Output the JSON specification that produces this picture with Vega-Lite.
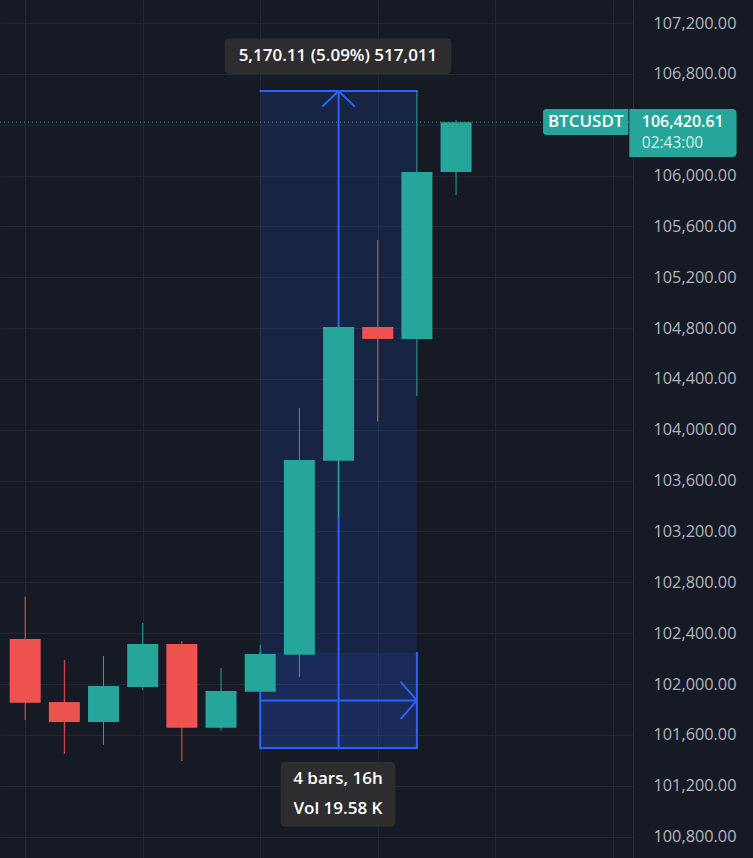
{
  "$schema": "https://vega.github.io/schema/vega-lite/v6.json",
  "width": 633,
  "height": 858,
  "autosize": {"type": "none"},
  "padding": {"left": 0, "right": 120, "top": 0, "bottom": 0},
  "background": "#161a25",
  "config": {"view": {"stroke": null}, "font": "Open Sans"},
  "datasets": {
    "candles": [
      {"i": 0, "o": 102354, "h": 102687, "l": 101717, "c": 101853},
      {"i": 1, "o": 101858, "h": 102189, "l": 101452, "c": 101701},
      {"i": 2, "o": 101701, "h": 102220, "l": 101522, "c": 101984},
      {"i": 3, "o": 101976, "h": 102480, "l": 101953, "c": 102315},
      {"i": 4, "o": 102315, "h": 102338, "l": 101394, "c": 101656},
      {"i": 5, "o": 101656, "h": 102126, "l": 101633, "c": 101945},
      {"i": 6, "o": 101939, "h": 102307, "l": 101935, "c": 102236},
      {"i": 7, "o": 102231, "h": 104172, "l": 102055, "c": 103762},
      {"i": 8, "o": 103757, "h": 104815, "l": 103316, "c": 104809},
      {"i": 9, "o": 104809, "h": 105493, "l": 104064, "c": 104715},
      {"i": 10, "o": 104715, "h": 106666.1, "l": 104266, "c": 106028},
      {"i": 11, "o": 106028, "h": 106437, "l": 105847, "c": 106420.61}
    ],
    "range": [{"x": 6, "x2": 10, "y": 101496, "y2": 106666.1}],
    "timebox": [{"x": 6, "x2": 10, "y": 101496, "y2": 102246}],
    "segments": [
      {"x": 6, "x2": 10, "y": 106666.1, "y2": 106666.1},
      {"x": 6, "x2": 10, "y": 101496, "y2": 101496},
      {"x": 6, "x2": 6, "y": 101496, "y2": 102246},
      {"x": 10, "x2": 10, "y": 101496, "y2": 102246},
      {"x": 8, "x2": 8, "y": 101496, "y2": 106666.1},
      {"x": 7.6, "x2": 8, "y": 106548, "y2": 106666.1},
      {"x": 8.4, "x2": 8, "y": 106548, "y2": 106666.1},
      {"x": 6, "x2": 10, "y": 101871, "y2": 101871},
      {"x": 9.6, "x2": 10, "y": 102013, "y2": 101871},
      {"x": 9.6, "x2": 10, "y": 101729, "y2": 101871}
    ],
    "last": [{"x": 0, "price": 106420.61}],
    "darkboxes": [
      {"x": 5.094, "x2": 10.874, "y": 106797, "y2": 107080},
      {"x": 6.52, "x2": 9.452, "y": 100877, "y2": 101389}
    ],
    "boxtexts": [
      {"x": 7.985, "y": 106939, "t": "5,170.11 (5.09%) 517,011"},
      {"x": 7.985, "y": 101250, "t": "4 bars, 16h"},
      {"x": 7.985, "y": 101014, "t": "Vol 19.58 K"}
    ],
    "symbolbox": [{"x": 13.221, "x2": 15.397, "y": 106320, "y2": 106524}],
    "symboltext": [{"x": 14.309, "y": 106418, "t": "BTCUSDT"}],
    "pricebox": [{"x": 15.422, "x2": 18.161, "y": 106146, "y2": 106524}],
    "pricetext": [{"x": 15.741, "y": 106425, "t": "106,420.61"}],
    "timetext": [{"x": 15.741, "y": 106255, "t": "02:43:00"}]
  },
  "layer": [
    {
      "data": {"name": "range"},
      "mark": {"type": "rect", "color": "#2962ff", "opacity": 0.14},
      "encoding": {
        "x": {"field": "x", "type": "quantitative", "title": null, "scale": {"domain": [-0.515, 15.389], "nice": false, "zero": false}, "axis": {"orient": "bottom", "values": [0, 3, 6, 9, 12, 15], "grid": true, "gridColor": "#232733", "gridWidth": 1, "labels": false, "ticks": false, "domain": false, "title": null}},
        "x2": {"field": "x2"},
        "y": {"field": "y", "type": "quantitative", "title": null, "scale": {"domain": [100631, 107381.7], "nice": false, "zero": false}, "axis": {"orient": "right", "values": [100800, 101200, 101600, 102000, 102400, 102800, 103200, 103600, 104000, 104400, 104800, 105200, 105600, 106000, 106400, 106800, 107200], "format": ",.2f", "labelExpr": "datum.value == 106400 ? '' : datum.label", "grid": true, "gridColor": "#232733", "gridWidth": 1, "ticks": false, "domain": true, "domainColor": "#2a2e39", "domainWidth": 1, "labelPadding": 20, "labelFont": "Open Sans", "labelFontSize": 16.3, "labelColor": "#b2b5be", "title": null}},
        "y2": {"field": "y2"}
      }
    },
    {
      "data": {"name": "timebox"},
      "mark": {"type": "rect", "color": "#2962ff", "opacity": 0.12},
      "encoding": {
        "x": {"field": "x", "type": "quantitative", "title": null, "scale": {"domain": [-0.515, 15.389], "nice": false, "zero": false}, "axis": {"orient": "bottom", "values": [0, 3, 6, 9, 12, 15], "grid": true, "gridColor": "#232733", "gridWidth": 1, "labels": false, "ticks": false, "domain": false, "title": null}},
        "x2": {"field": "x2"},
        "y": {"field": "y", "type": "quantitative", "title": null, "scale": {"domain": [100631, 107381.7], "nice": false, "zero": false}, "axis": {"orient": "right", "values": [100800, 101200, 101600, 102000, 102400, 102800, 103200, 103600, 104000, 104400, 104800, 105200, 105600, 106000, 106400, 106800, 107200], "format": ",.2f", "labelExpr": "datum.value == 106400 ? '' : datum.label", "grid": true, "gridColor": "#232733", "gridWidth": 1, "ticks": false, "domain": true, "domainColor": "#2a2e39", "domainWidth": 1, "labelPadding": 20, "labelFont": "Open Sans", "labelFontSize": 16.3, "labelColor": "#b2b5be", "title": null}},
        "y2": {"field": "y2"}
      }
    },
    {
      "data": {"name": "segments"},
      "mark": {"type": "rule", "color": "#2962ff", "strokeWidth": 2, "strokeCap": "round"},
      "encoding": {
        "x": {"field": "x", "type": "quantitative", "title": null, "scale": {"domain": [-0.515, 15.389], "nice": false, "zero": false}, "axis": {"orient": "bottom", "values": [0, 3, 6, 9, 12, 15], "grid": true, "gridColor": "#232733", "gridWidth": 1, "labels": false, "ticks": false, "domain": false, "title": null}},
        "x2": {"field": "x2"},
        "y": {"field": "y", "type": "quantitative", "title": null, "scale": {"domain": [100631, 107381.7], "nice": false, "zero": false}, "axis": {"orient": "right", "values": [100800, 101200, 101600, 102000, 102400, 102800, 103200, 103600, 104000, 104400, 104800, 105200, 105600, 106000, 106400, 106800, 107200], "format": ",.2f", "labelExpr": "datum.value == 106400 ? '' : datum.label", "grid": true, "gridColor": "#232733", "gridWidth": 1, "ticks": false, "domain": true, "domainColor": "#2a2e39", "domainWidth": 1, "labelPadding": 20, "labelFont": "Open Sans", "labelFontSize": 16.3, "labelColor": "#b2b5be", "title": null}},
        "y2": {"field": "y2"}
      }
    },
    {
      "data": {"name": "candles"},
      "mark": {"type": "rule", "strokeWidth": 1},
      "encoding": {
        "x": {"field": "i", "type": "quantitative", "title": null, "scale": {"domain": [-0.515, 15.389], "nice": false, "zero": false}, "axis": {"orient": "bottom", "values": [0, 3, 6, 9, 12, 15], "grid": true, "gridColor": "#232733", "gridWidth": 1, "labels": false, "ticks": false, "domain": false, "title": null}},
        "y": {"field": "l", "type": "quantitative", "title": null, "scale": {"domain": [100631, 107381.7], "nice": false, "zero": false}, "axis": {"orient": "right", "values": [100800, 101200, 101600, 102000, 102400, 102800, 103200, 103600, 104000, 104400, 104800, 105200, 105600, 106000, 106400, 106800, 107200], "format": ",.2f", "labelExpr": "datum.value == 106400 ? '' : datum.label", "grid": true, "gridColor": "#232733", "gridWidth": 1, "ticks": false, "domain": true, "domainColor": "#2a2e39", "domainWidth": 1, "labelPadding": 20, "labelFont": "Open Sans", "labelFontSize": 16.3, "labelColor": "#b2b5be", "title": null}},
        "y2": {"field": "h"},
        "color": {"condition": {"test": "datum.c >= datum.o", "value": "#26a69a"}, "value": "#ef5350"}
      }
    },
    {
      "data": {"name": "candles"},
      "mark": {"type": "bar", "width": 31},
      "encoding": {
        "x": {"field": "i", "type": "quantitative", "title": null, "scale": {"domain": [-0.515, 15.389], "nice": false, "zero": false}, "axis": {"orient": "bottom", "values": [0, 3, 6, 9, 12, 15], "grid": true, "gridColor": "#232733", "gridWidth": 1, "labels": false, "ticks": false, "domain": false, "title": null}},
        "y": {"field": "o", "type": "quantitative", "title": null, "scale": {"domain": [100631, 107381.7], "nice": false, "zero": false}, "axis": {"orient": "right", "values": [100800, 101200, 101600, 102000, 102400, 102800, 103200, 103600, 104000, 104400, 104800, 105200, 105600, 106000, 106400, 106800, 107200], "format": ",.2f", "labelExpr": "datum.value == 106400 ? '' : datum.label", "grid": true, "gridColor": "#232733", "gridWidth": 1, "ticks": false, "domain": true, "domainColor": "#2a2e39", "domainWidth": 1, "labelPadding": 20, "labelFont": "Open Sans", "labelFontSize": 16.3, "labelColor": "#b2b5be", "title": null}},
        "y2": {"field": "c"},
        "color": {"condition": {"test": "datum.c >= datum.o", "value": "#26a69a"}, "value": "#ef5350"}
      }
    },
    {
      "data": {"name": "last"},
      "mark": {"type": "rule", "color": "#26a69a", "strokeWidth": 1, "strokeDash": [1, 3]},
      "encoding": {
        "y": {"field": "price", "type": "quantitative", "title": null, "scale": {"domain": [100631, 107381.7], "nice": false, "zero": false}, "axis": {"orient": "right", "values": [100800, 101200, 101600, 102000, 102400, 102800, 103200, 103600, 104000, 104400, 104800, 105200, 105600, 106000, 106400, 106800, 107200], "format": ",.2f", "labelExpr": "datum.value == 106400 ? '' : datum.label", "grid": true, "gridColor": "#232733", "gridWidth": 1, "ticks": false, "domain": true, "domainColor": "#2a2e39", "domainWidth": 1, "labelPadding": 20, "labelFont": "Open Sans", "labelFontSize": 16.3, "labelColor": "#b2b5be", "title": null}}
      }
    },
    {
      "data": {"name": "darkboxes"},
      "mark": {"type": "rect", "color": "#2d2d30", "cornerRadius": 5},
      "encoding": {
        "x": {"field": "x", "type": "quantitative", "title": null, "scale": {"domain": [-0.515, 15.389], "nice": false, "zero": false}, "axis": {"orient": "bottom", "values": [0, 3, 6, 9, 12, 15], "grid": true, "gridColor": "#232733", "gridWidth": 1, "labels": false, "ticks": false, "domain": false, "title": null}},
        "x2": {"field": "x2"},
        "y": {"field": "y", "type": "quantitative", "title": null, "scale": {"domain": [100631, 107381.7], "nice": false, "zero": false}, "axis": {"orient": "right", "values": [100800, 101200, 101600, 102000, 102400, 102800, 103200, 103600, 104000, 104400, 104800, 105200, 105600, 106000, 106400, 106800, 107200], "format": ",.2f", "labelExpr": "datum.value == 106400 ? '' : datum.label", "grid": true, "gridColor": "#232733", "gridWidth": 1, "ticks": false, "domain": true, "domainColor": "#2a2e39", "domainWidth": 1, "labelPadding": 20, "labelFont": "Open Sans", "labelFontSize": 16.3, "labelColor": "#b2b5be", "title": null}},
        "y2": {"field": "y2"}
      }
    },
    {
      "data": {"name": "boxtexts"},
      "mark": {"type": "text", "color": "#ffffff", "font": "Open Sans", "fontSize": 17, "fontWeight": 600, "align": "center", "baseline": "middle"},
      "encoding": {
        "x": {"field": "x", "type": "quantitative", "title": null, "scale": {"domain": [-0.515, 15.389], "nice": false, "zero": false}, "axis": {"orient": "bottom", "values": [0, 3, 6, 9, 12, 15], "grid": true, "gridColor": "#232733", "gridWidth": 1, "labels": false, "ticks": false, "domain": false, "title": null}},
        "y": {"field": "y", "type": "quantitative", "title": null, "scale": {"domain": [100631, 107381.7], "nice": false, "zero": false}, "axis": {"orient": "right", "values": [100800, 101200, 101600, 102000, 102400, 102800, 103200, 103600, 104000, 104400, 104800, 105200, 105600, 106000, 106400, 106800, 107200], "format": ",.2f", "labelExpr": "datum.value == 106400 ? '' : datum.label", "grid": true, "gridColor": "#232733", "gridWidth": 1, "ticks": false, "domain": true, "domainColor": "#2a2e39", "domainWidth": 1, "labelPadding": 20, "labelFont": "Open Sans", "labelFontSize": 16.3, "labelColor": "#b2b5be", "title": null}},
        "text": {"field": "t"}
      }
    },
    {
      "data": {"name": "symbolbox"},
      "mark": {"type": "rect", "color": "#26a69a", "cornerRadiusTopLeft": 3, "cornerRadiusBottomLeft": 3},
      "encoding": {
        "x": {"field": "x", "type": "quantitative", "title": null, "scale": {"domain": [-0.515, 15.389], "nice": false, "zero": false}, "axis": {"orient": "bottom", "values": [0, 3, 6, 9, 12, 15], "grid": true, "gridColor": "#232733", "gridWidth": 1, "labels": false, "ticks": false, "domain": false, "title": null}},
        "x2": {"field": "x2"},
        "y": {"field": "y", "type": "quantitative", "title": null, "scale": {"domain": [100631, 107381.7], "nice": false, "zero": false}, "axis": {"orient": "right", "values": [100800, 101200, 101600, 102000, 102400, 102800, 103200, 103600, 104000, 104400, 104800, 105200, 105600, 106000, 106400, 106800, 107200], "format": ",.2f", "labelExpr": "datum.value == 106400 ? '' : datum.label", "grid": true, "gridColor": "#232733", "gridWidth": 1, "ticks": false, "domain": true, "domainColor": "#2a2e39", "domainWidth": 1, "labelPadding": 20, "labelFont": "Open Sans", "labelFontSize": 16.3, "labelColor": "#b2b5be", "title": null}},
        "y2": {"field": "y2"}
      }
    },
    {
      "data": {"name": "symboltext"},
      "mark": {"type": "text", "color": "#ffffff", "font": "Open Sans", "fontSize": 17, "fontWeight": 600, "align": "center", "baseline": "middle"},
      "encoding": {
        "x": {"field": "x", "type": "quantitative", "title": null, "scale": {"domain": [-0.515, 15.389], "nice": false, "zero": false}, "axis": {"orient": "bottom", "values": [0, 3, 6, 9, 12, 15], "grid": true, "gridColor": "#232733", "gridWidth": 1, "labels": false, "ticks": false, "domain": false, "title": null}},
        "y": {"field": "y", "type": "quantitative", "title": null, "scale": {"domain": [100631, 107381.7], "nice": false, "zero": false}, "axis": {"orient": "right", "values": [100800, 101200, 101600, 102000, 102400, 102800, 103200, 103600, 104000, 104400, 104800, 105200, 105600, 106000, 106400, 106800, 107200], "format": ",.2f", "labelExpr": "datum.value == 106400 ? '' : datum.label", "grid": true, "gridColor": "#232733", "gridWidth": 1, "ticks": false, "domain": true, "domainColor": "#2a2e39", "domainWidth": 1, "labelPadding": 20, "labelFont": "Open Sans", "labelFontSize": 16.3, "labelColor": "#b2b5be", "title": null}},
        "text": {"field": "t"}
      }
    },
    {
      "data": {"name": "pricebox"},
      "mark": {"type": "rect", "color": "#26a69a", "cornerRadiusTopRight": 4, "cornerRadiusBottomRight": 4},
      "encoding": {
        "x": {"field": "x", "type": "quantitative", "title": null, "scale": {"domain": [-0.515, 15.389], "nice": false, "zero": false}, "axis": {"orient": "bottom", "values": [0, 3, 6, 9, 12, 15], "grid": true, "gridColor": "#232733", "gridWidth": 1, "labels": false, "ticks": false, "domain": false, "title": null}},
        "x2": {"field": "x2"},
        "y": {"field": "y", "type": "quantitative", "title": null, "scale": {"domain": [100631, 107381.7], "nice": false, "zero": false}, "axis": {"orient": "right", "values": [100800, 101200, 101600, 102000, 102400, 102800, 103200, 103600, 104000, 104400, 104800, 105200, 105600, 106000, 106400, 106800, 107200], "format": ",.2f", "labelExpr": "datum.value == 106400 ? '' : datum.label", "grid": true, "gridColor": "#232733", "gridWidth": 1, "ticks": false, "domain": true, "domainColor": "#2a2e39", "domainWidth": 1, "labelPadding": 20, "labelFont": "Open Sans", "labelFontSize": 16.3, "labelColor": "#b2b5be", "title": null}},
        "y2": {"field": "y2"}
      }
    },
    {
      "data": {"name": "pricetext"},
      "mark": {"type": "text", "color": "#ffffff", "font": "Open Sans", "fontSize": 16, "fontWeight": 600, "align": "left", "baseline": "middle"},
      "encoding": {
        "x": {"field": "x", "type": "quantitative", "title": null, "scale": {"domain": [-0.515, 15.389], "nice": false, "zero": false}, "axis": {"orient": "bottom", "values": [0, 3, 6, 9, 12, 15], "grid": true, "gridColor": "#232733", "gridWidth": 1, "labels": false, "ticks": false, "domain": false, "title": null}},
        "y": {"field": "y", "type": "quantitative", "title": null, "scale": {"domain": [100631, 107381.7], "nice": false, "zero": false}, "axis": {"orient": "right", "values": [100800, 101200, 101600, 102000, 102400, 102800, 103200, 103600, 104000, 104400, 104800, 105200, 105600, 106000, 106400, 106800, 107200], "format": ",.2f", "labelExpr": "datum.value == 106400 ? '' : datum.label", "grid": true, "gridColor": "#232733", "gridWidth": 1, "ticks": false, "domain": true, "domainColor": "#2a2e39", "domainWidth": 1, "labelPadding": 20, "labelFont": "Open Sans", "labelFontSize": 16.3, "labelColor": "#b2b5be", "title": null}},
        "text": {"field": "t"}
      }
    },
    {
      "data": {"name": "timetext"},
      "mark": {"type": "text", "color": "#d4eeeb", "font": "Open Sans", "fontSize": 15.5, "fontWeight": 400, "align": "left", "baseline": "middle"},
      "encoding": {
        "x": {"field": "x", "type": "quantitative", "title": null, "scale": {"domain": [-0.515, 15.389], "nice": false, "zero": false}, "axis": {"orient": "bottom", "values": [0, 3, 6, 9, 12, 15], "grid": true, "gridColor": "#232733", "gridWidth": 1, "labels": false, "ticks": false, "domain": false, "title": null}},
        "y": {"field": "y", "type": "quantitative", "title": null, "scale": {"domain": [100631, 107381.7], "nice": false, "zero": false}, "axis": {"orient": "right", "values": [100800, 101200, 101600, 102000, 102400, 102800, 103200, 103600, 104000, 104400, 104800, 105200, 105600, 106000, 106400, 106800, 107200], "format": ",.2f", "labelExpr": "datum.value == 106400 ? '' : datum.label", "grid": true, "gridColor": "#232733", "gridWidth": 1, "ticks": false, "domain": true, "domainColor": "#2a2e39", "domainWidth": 1, "labelPadding": 20, "labelFont": "Open Sans", "labelFontSize": 16.3, "labelColor": "#b2b5be", "title": null}},
        "text": {"field": "t"}
      }
    }
  ]
}
